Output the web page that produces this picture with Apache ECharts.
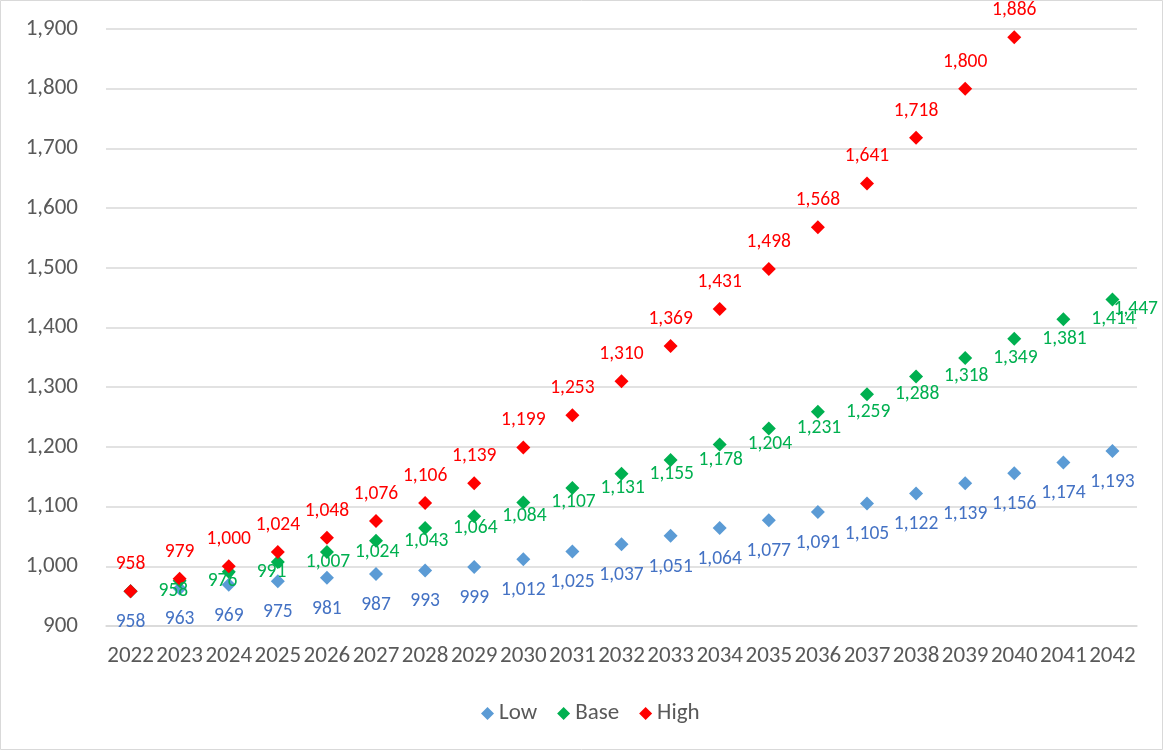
<!DOCTYPE html>
<html>
<head>
<meta charset="utf-8">
<script src="https://cdn.jsdelivr.net/npm/echarts@6/dist/echarts.min.js"></script>
<style>
html,body{margin:0;padding:0;background:#fff;}
#chart{width:1163px;height:750px;}
</style>
</head>
<body>
<div id="chart"></div>
<script>
const years = ['2022','2023','2024','2025','2026','2027','2028','2029','2030','2031','2032','2033','2034','2035','2036','2037','2038','2039','2040','2041','2042'];
const lowValues = [958, 963, 969, 975, 981, 987, 993, 999, 1012, 1025, 1037, 1051, 1064, 1077, 1091, 1105, 1122, 1139, 1156, 1174, 1193];
const baseValues = [958, 976, 991, 1007, 1024, 1043, 1064, 1084, 1107, 1131, 1155, 1178, 1204, 1231, 1259, 1288, 1318, 1349, 1381, 1414, 1447];
const highValues = [958, 979, 1000, 1024, 1048, 1076, 1106, 1139, 1199, 1253, 1310, 1369, 1431, 1498, 1568, 1641, 1718, 1800, 1886, null, null];
const seriesNames = ['Low', 'Base', 'High'];

const FONT = 'Calibri, Carlito, Lato, "Liberation Sans", sans-serif';
const fmt = v => Number(v).toLocaleString('en-US');
const chart = echarts.init(document.getElementById('chart'));

function mk(name, data, color, labelColor, pos, dist) {
  return {
    name: name,
    type: 'scatter',
    symbol: 'diamond',
    symbolSize: 14,
    data: data.map(v => v == null ? '-' : v),
    itemStyle: { color: color, opacity: 1 },
    emphasis: { disabled: true },
    label: {
      show: true,
      position: pos,
      distance: dist,
      color: labelColor,
      fontFamily: FONT,
      fontSize: 19.5,
      formatter: p => fmt(p.value)
    },
    labelLayout: function (params) {
      const r = params.labelRect;
      if (r.x + r.width > 1159) {
        return { x: 1158, align: 'right' };
      }
      return {};
    }
  };
}

chart.setOption({
  animation: false,
  backgroundColor: '#ffffff',
  textStyle: { fontFamily: FONT },
  graphic: [{
    type: 'rect',
    shape: { x: 0.5, y: 0.5, width: 1162, height: 749 },
    style: { fill: 'none', stroke: '#D9D9D9', lineWidth: 1 },
    silent: true,
    z: 0
  }],
  grid: { left: 106, right: 26, top: 29, bottom: 124 },
  legend: {
    data: seriesNames.map(n => ({ name: n, icon: 'diamond' })),
    bottom: 20,
    left: 476,
    itemWidth: 13,
    itemHeight: 13,
    itemGap: 20,
    textStyle: { color: '#595959', fontSize: 23, fontFamily: FONT }
  },
  xAxis: {
    type: 'category',
    data: years,
    boundaryGap: true,
    axisLine: { show: true, lineStyle: { color: '#D9D9D9', width: 1.5 } },
    axisTick: { show: false },
    axisLabel: { color: '#595959', fontSize: 23, fontFamily: FONT, margin: 19, interval: 0 },
    splitLine: { show: false }
  },
  yAxis: {
    type: 'value',
    min: 900,
    max: 1900,
    interval: 100,
    axisLine: { show: false },
    axisTick: { show: false },
    axisLabel: { color: '#595959', fontSize: 23, fontFamily: FONT, margin: 28, formatter: v => fmt(v) },
    splitLine: { lineStyle: { color: '#D9D9D9', width: 1.5 } }
  },
  series: [
    mk('Low', lowValues, '#5B9BD5', '#4472C4', 'bottom', 14),
    mk('Base', baseValues, '#00B050', '#00B050', 'right', 21),
    mk('High', highValues, '#FF0000', '#FF0000', 'top', 10)
  ]
});
</script>
</body>
</html>
